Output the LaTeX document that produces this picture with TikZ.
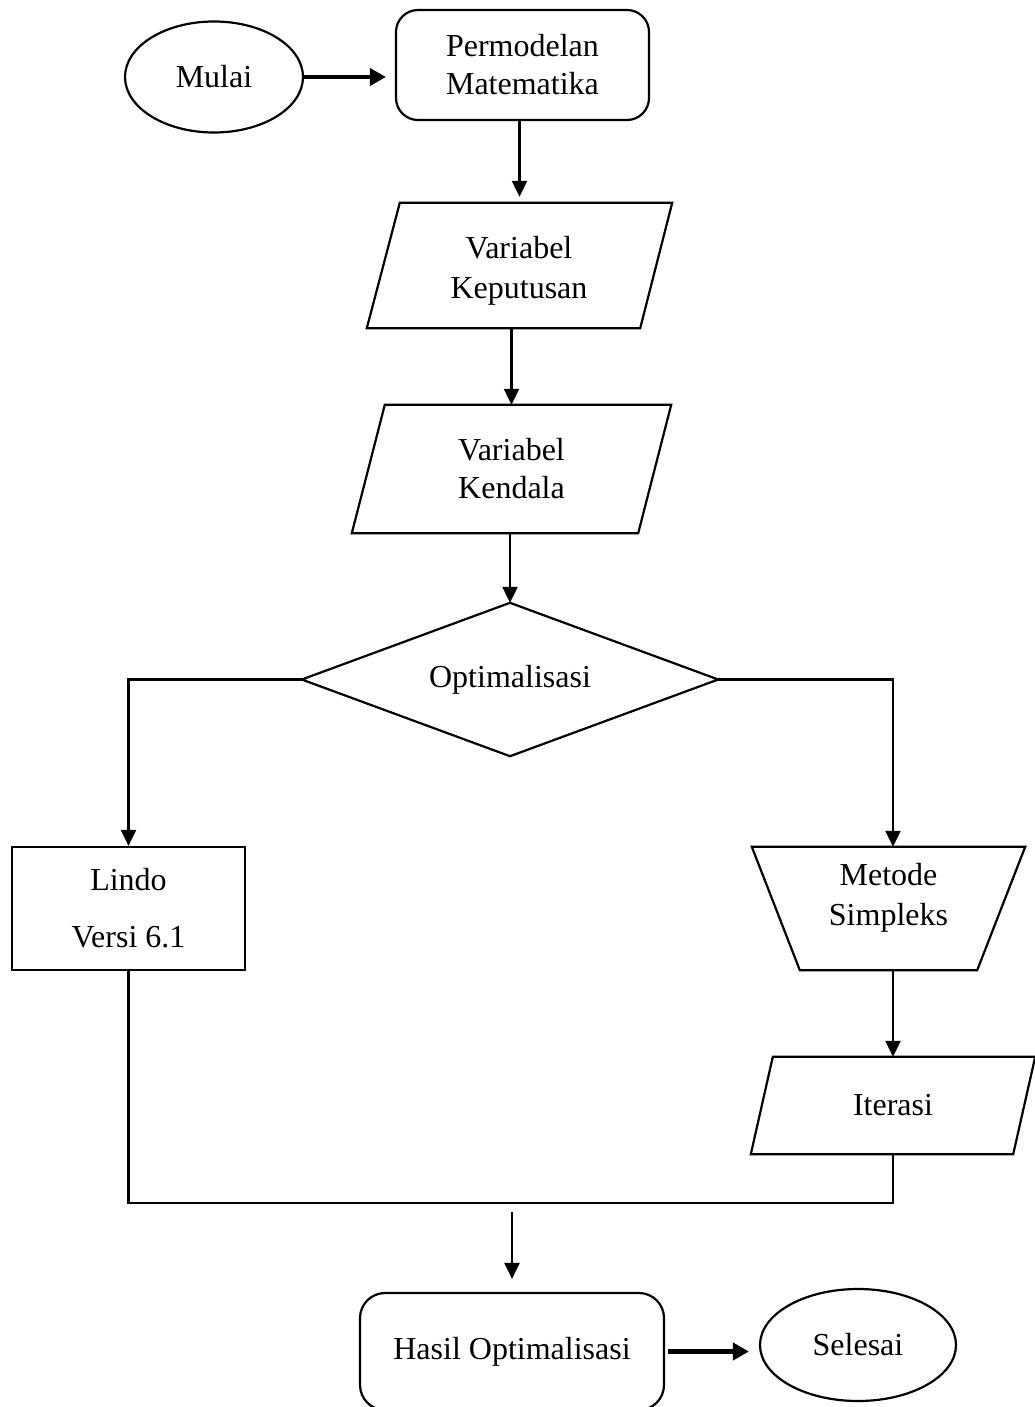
\documentclass[tikz,border=0pt]{standalone}
\usepackage{fontspec}
\setmainfont{Liberation Serif}
\usetikzlibrary{shapes.geometric,arrows.meta,calc}
\begin{document}
\begin{tikzpicture}[x=1pt,y=-1pt,
  every node/.style={font=\fontsize{32}{38}\selectfont, align=center, inner sep=0pt},
  oval/.style={draw, ellipse, line width=2.2pt},
  roundbox/.style={draw, rounded corners=22pt, line width=2.2pt},
  plainbox/.style={draw, line width=2.2pt},
  shapeline/.style={line width=2.2pt, line join=miter},
  conn/.style={line width=2.2pt},
  arr/.style={conn, -{Triangle[length=16pt,width=15pt]}},
  thickarr/.style={line width=4.5pt, -{Triangle[length=16pt,width=17pt]}}
]
\useasboundingbox (0,0) rectangle (1035,1407);

% nodes
\node[oval, minimum width=178pt, minimum height=111pt] (mulai) at (214,77) {Mulai};
\node[roundbox, minimum width=253pt, minimum height=110pt] (model) at (522.5,65) {Permodelan\\Matematika};

\node[minimum width=305pt, minimum height=125pt] (kep) at (519.5,265.5) {};
\draw[shapeline] ($(kep.north west)+(33,0)$) -- (kep.north east) -- ($(kep.south east)+(-32,0)$) -- (kep.south west) -- cycle;
\node (keptext) at (519,271) {Variabel\\[2pt]Keputusan};

\node[minimum width=319pt, minimum height=128pt] (kend) at (511.5,469) {Variabel\\Kendala};
\draw[shapeline] ($(kend.north west)+(33,0)$) -- (kend.north east) -- ($(kend.south east)+(-33,0)$) -- (kend.south west) -- cycle;

\node[minimum width=416pt, minimum height=153pt] (opt) at (510,679.5) {Optimalisasi};
\draw[shapeline] (opt.north) -- (opt.east) -- (opt.south) -- (opt.west) -- cycle;

\node[plainbox, minimum width=233pt, minimum height=123pt] (lindo) at (128.5,908.5) {Lindo\\[19pt]Versi 6.1};

\node[minimum width=273pt, minimum height=123pt] (met) at (888.5,908.5) {};
\draw[shapeline] (met.north west) -- (met.north east) -- ($(met.south east)+(-48,0)$) -- ($(met.south west)+(48,0)$) -- cycle;
\node (mettext) at (888.5,898) {Metode\\[2pt]Simpleks};

\node[minimum width=284pt, minimum height=97pt] (iter) at (893,1105.5) {Iterasi};
\draw[shapeline] ($(iter.north west)+(22,0)$) -- (iter.north east) -- ($(iter.south east)+(-22,0)$) -- (iter.south west) -- cycle;

\node[roundbox, rounded corners=25pt, minimum width=304pt, minimum height=117pt] (hasil) at (512,1351.5) {Hasil Optimalisasi};
\node[oval, minimum width=196pt, minimum height=112pt] (selesai) at (858,1345) {Selesai};

\coordinate (join) at (511,1203);
\coordinate (from) at (512,1212);

% connectors
\draw[thickarr, shorten >=9pt] (mulai.east) -- (mulai.east -| model.west);
\draw[arr, shorten >=6pt] (kep.north |- model.south) -- (kep.north);
\draw[arr] (kend.north |- kep.south) -- (kend.north);
\draw[arr] (opt.north |- kend.south) -- (opt.north);
\draw[arr] (opt.west) -| (lindo.north);
\draw[arr] (opt.east) -| ($(met.north)+(4.5,0)$);
\draw[arr] ($(met.south)+(4.5,0)$) -- (iter.north);
\draw[conn] (lindo.south) |- (join) -| (iter.south);
\draw[arr, shorten >=13pt] (from) -- (hasil.north);
\draw[thickarr, shorten <=3pt, shorten >=10pt] (hasil.east) -- (hasil.east -| selesai.west);
\end{tikzpicture}
\end{document}
